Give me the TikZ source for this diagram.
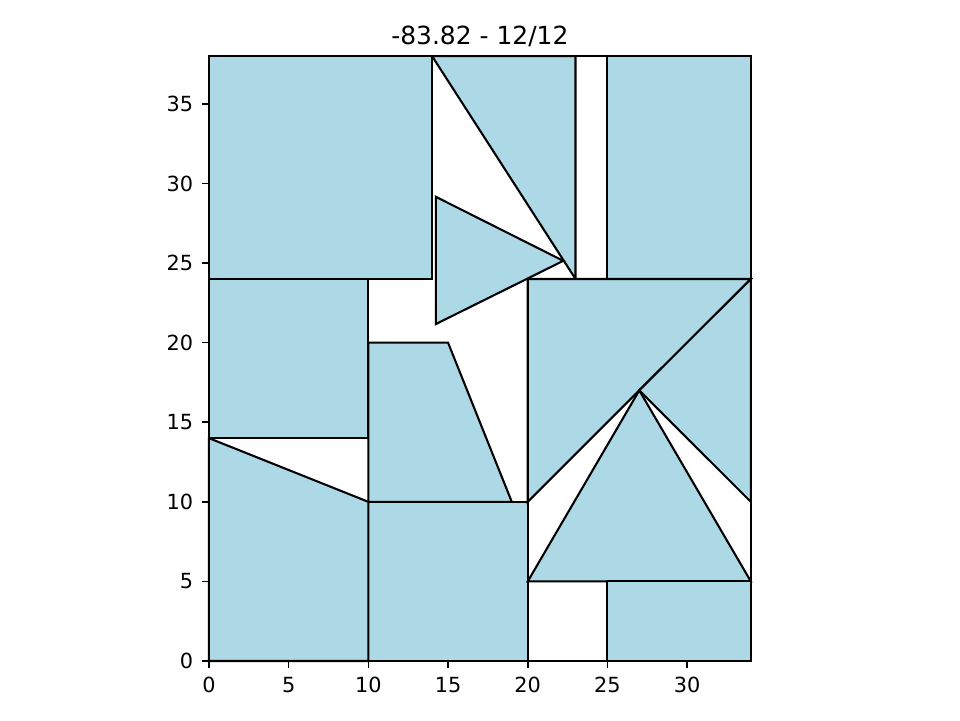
\documentclass[tikz,border=0pt]{standalone}
\usepackage{fontspec}
\setmainfont{DejaVu Sans}
\definecolor{lightblue}{HTML}{ADD8E6}
\tikzset{
  piece/.style={fill=lightblue, draw=black, line width=1.18pt},
  spine/.style={draw=black, line width=0.95pt},
  tickmark/.style={draw=black, line width=0.95pt},
  ticklbl/.style={font=\fontsize{11.85}{13}\selectfont, inner sep=0pt},
  titlelbl/.style={font=\fontsize{14.2}{16}\selectfont, inner sep=0pt}
}
\begin{document}
\begin{tikzpicture}[x=0.02cm, y=0.02cm]
\useasboundingbox (0,0) rectangle (960,720);
\begin{scope}[shift={(4.18cm,1.18cm)}, x=0.31882cm, y=0.31842cm]
  % pieces
  \draw[piece] (0,24) rectangle (14,38);
  \draw[piece] (14,38) -- (23,38) -- (23,24) -- cycle;
  \draw[piece] (25,24) rectangle (34,38);
  \draw[piece] (14.24,29.16) -- (22.23,25.14) -- (14.24,21.17) -- cycle;
  \draw[piece] (0,14) rectangle (10,24);
  \draw[piece] (10,0) rectangle (20,10);
  \draw[piece] (10,10) -- (10,20) -- (15,20) -- (19,10) -- cycle;
  \draw[piece] (20,10) -- (20,24) -- (34,24) -- cycle;
  \draw[piece] (27,17) -- (34,24) -- (34,10) -- cycle;
  \draw[piece] (20,5) -- (27,17) -- (34,5) -- cycle;
  \draw[piece] (25,0) rectangle (34,5);
  \draw[piece] (0,0) -- (0,14) -- (10,10) -- (10,0) -- cycle;
  % axes
  \draw[spine] (0,0) rectangle (34,38);
  \foreach \i in {0,5,...,30} {
    \draw[tickmark] (\i,0) -- ++(0,-0.146cm);
    \node[ticklbl, anchor=north] (xl\i) at ([yshift=-0.31cm]\i,0) {\i};
  }
  \foreach \j in {0,5,...,35} {
    \draw[tickmark] (0,\j) -- ++(-0.146cm,0);
    \node[ticklbl, anchor=east] (yl\j) at ([xshift=-0.31cm]0,\j) {\j};
  }
  \node[titlelbl, anchor=base] (title) at ([yshift=0.234cm]17,38) {-83.82 - 12/12};
\end{scope}
\end{tikzpicture}
\end{document}
